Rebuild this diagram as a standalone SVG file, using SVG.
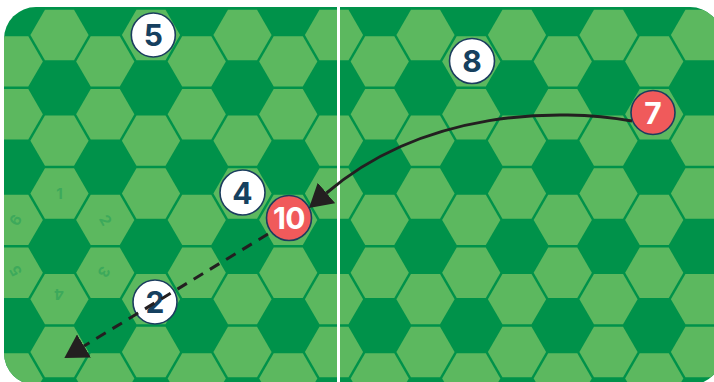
<svg xmlns="http://www.w3.org/2000/svg" xmlns:xlink="http://www.w3.org/1999/xlink" width="714" height="382" viewBox="0 0 714 382">
<style>
.hx{fill:#5CB85F}
.node circle{stroke:#1B3D5E;stroke-width:1.6}
.wn circle{fill:#FFFFFF}
.rn circle{fill:#F05A5B}
.node text{font-family:Inter,"Liberation Sans",sans-serif;font-weight:700;font-size:30px;text-anchor:middle}
.wn text{fill:#16405F}
.rn text{fill:#FFFFFF}
.sn{font-family:Inter,"Liberation Sans",sans-serif;font-weight:700;font-size:15px;fill:#3DA95B;text-anchor:middle;dominant-baseline:central}
.conn path{fill:none;stroke:#231F20;stroke-width:3}
</style>
<defs>
<clipPath id="pc"><rect x="4" y="7" width="718" height="378" rx="32"/></clipPath>
<polygon id="h" class="hx" points="29.1,0 14.55,25.2 -14.55,25.2 -29.1,0 -14.55,-25.2 14.55,-25.2"/>
<g id="re">
<use href="#h" x="59.5"/><use href="#h" x="151"/><use href="#h" x="242.5"/><use href="#h" x="334"/>
<use href="#h" x="425.5"/><use href="#h" x="517"/><use href="#h" x="608.5"/><use href="#h" x="700"/>
</g>
<g id="ro">
<use href="#h" x="13.75"/><use href="#h" x="105.25"/><use href="#h" x="196.75"/><use href="#h" x="288.25"/>
<use href="#h" x="379.75"/><use href="#h" x="471.25"/><use href="#h" x="562.75"/><use href="#h" x="654.25"/>
</g>
<marker id="ah" viewBox="0 0 23 27" refX="0" refY="13.5" markerWidth="23" markerHeight="27" markerUnits="userSpaceOnUse" orient="auto">
<path d="M0,0 L23,13.5 L0,27 z" fill="#231F20"/>
</marker>
</defs>
<g id="pitch" clip-path="url(#pc)">
<rect x="4" y="7" width="718" height="378" fill="#00924A"/>
<use href="#re" y="35"/>
<use href="#ro" y="61.415"/>
<use href="#ro" y="114.245"/>
<use href="#re" y="140.66"/>
<use href="#re" y="193.49"/>
<use href="#ro" y="219.905"/>
<use href="#ro" y="272.735"/>
<use href="#re" y="299.15"/>
<use href="#re" y="351.98"/>
<use href="#ro" y="378.395"/>
<rect x="337" y="7" width="3" height="378" fill="#FFFFFF"/>
</g>
<g id="dice-numbers">
<text class="sn" transform="translate(59.5,193.5)">1</text>
<text class="sn" transform="translate(105.5,220) rotate(60)">2</text>
<text class="sn" transform="translate(104,272) rotate(120)">3</text>
<text class="sn" transform="translate(59,294) rotate(180)">4</text>
<text class="sn" transform="translate(15.5,271) rotate(240)">5</text>
<text class="sn" transform="translate(15.5,220) rotate(300)">6</text>
</g>
<g id="node-5" class="node wn"><circle cx="153.3" cy="35" r="22"/><text x="153.3" y="46">5</text></g>
<g id="node-8" class="node wn"><circle cx="472" cy="61" r="22.5"/><text x="472" y="72">8</text></g>
<g id="node-7" class="node rn"><circle cx="653" cy="112.5" r="22"/><text x="653" y="123.5">7</text></g>
<g id="node-4" class="node wn"><circle cx="242.5" cy="192.5" r="22.5"/><text x="242.5" y="203.5">4</text></g>
<g id="node-10" class="node rn"><circle cx="289" cy="218" r="22.5"/><text x="289" y="229" letter-spacing="-0.5">10</text></g>
<g id="node-2" class="node wn"><circle cx="155" cy="302" r="22"/><text x="155" y="313">2</text></g>
<g id="connectors" class="conn">
<path d="M632,121 C560,108 425,109 326.5,193" marker-end="url(#ah)"/>
<path d="M268,234 L84,346" stroke-dasharray="11 8" marker-end="url(#ah)"/>
</g>
</svg>
